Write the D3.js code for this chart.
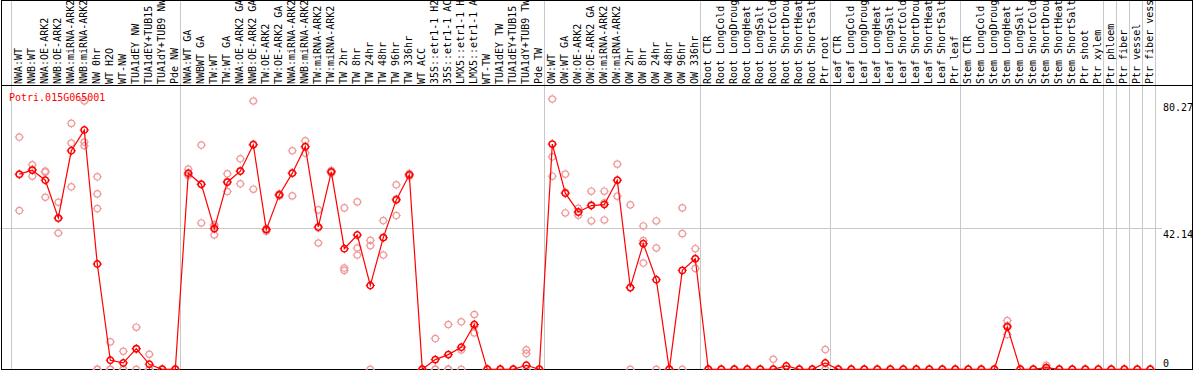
<!DOCTYPE html>
<html>
<head>
<meta charset="utf-8">
<script src="https://cdn.jsdelivr.net/npm/d3@7/dist/d3.min.js"></script>
<style>
    body { margin: 0; background: #fff; }
    svg { display: block; font-family: "DejaVu Sans Mono", monospace; font-size: 10px; }
</style>
</head>
<body>
<div id="chart"></div>
<script>

let title = "Potri.015G065001";

let samples = [
    "NWA:WT", "NWB:WT", "NWA:OE-ARK2", "NWB:OE-ARK2", "NWA:miRNA-ARK2", "NWB:miRNA-ARK2",
    "NW 0hr", "WT H2O", "WT-NW", "TUA1dEY NW", "TUA1dEY+TUB15 NW", "TUA1dY+TUB9 NW", "Pde NW",
    "NWA:WT GA", "NWBWT GA", "TW:WT", "TW:WT GA", "NWA:OE-ARK2 GA", "NWB:OE-ARK2 GA",
    "TW:OE-ARK2", "TW:OE-ARK2 GA", "NWA:miRNA-ARK2", "NWB:miRNA-ARK2", "TW:miRNA-ARK2",
    "TW:miRNA-ARK2", "TW 2hr", "TW 8hr", "TW 24hr", "TW 48hr", "TW 96hr", "TW 336hr",
    "WT ACC", "35S::etr1-1 H2O", "35S::etr1-1 ACC", "LMX5::etr1-1 H2O", "LMX5::etr1-1 ACC",
    "WT-TW", "TUA1dEY TW", "TUA1dEY+TUB15 TW", "TUA1dY+TUB9 TW", "Pde TW",
    "OW:WT", "OW:WT GA", "OW:OE-ARK2", "OW:OE-ARK2 GA", "OW:miRNA-ARK2", "OW:miRNA-ARK2",
    "OW 2hr", "OW 8hr", "OW 24hr", "OW 48hr", "OW 96hr", "OW 336hr",
    "Root CTR", "Root LongCold", "Root LongDrought", "Root LongHeat", "Root LongSalt",
    "Root ShortCold", "Root ShortDrought", "Root ShortHeat", "Root ShortSalt", "Ptr root",
    "Leaf CTR", "Leaf LongCold", "Leaf LongDrought", "Leaf LongHeat", "Leaf LongSalt",
    "Leaf ShortCold", "Leaf ShortDrought", "Leaf ShortHeat", "Leaf ShortSalt", "Ptr leaf",
    "Stem CTR", "Stem LongCold", "Stem LongDrought", "Stem LongHeat", "Stem LongSalt",
    "Stem ShortCold", "Stem ShortDrought", "Stem ShortHeat", "Stem ShortSalt", "Ptr shoot", "Ptr xylem",
    "Ptr phloem", "Ptr fiber", "Ptr vessel", "Ptr fiber vessel"
];

// number of samples in each block, separated by grey lines
let groupSizes = [13, 28, 12, 10, 10, 11, 1, 1, 1, 1];

// mean expression (the red line)
let meanValues = [
    58.4, 59.6, 56.6, 45.3, 65.4, 71.6, 31.5, 2.7, 1.9, 6.2, 1.5, 0, 0,
    58.7, 55.4, 42.1, 56.0, 59.3, 67.2, 41.8, 52.2, 58.7, 66.6, 42.6, 59.1, 36.1, 40.2,
    25.1, 39.4, 50.7, 58.2, 0, 2.9, 4.4, 6.6, 13.4, 0, 0, 0, 1.2, 0,
    67.4, 52.7, 47.1, 49.0, 49.3, 56.6, 24.5, 37.6, 26.8, 0, 29.6, 33.1,
    0, 0, 0, 0, 0, 0, 1.0, 0, 0, 1.9,
    0, 0, 0, 0, 0, 0, 0, 0, 0, 0,
    0, 0, 0, 12.7, 0, 0, 0.5, 0, 0, 0, 0,
    0, 0, 0, 0
];

// individual replicates (pink circles)
let replicates = [
    [69.5, 58.2, 47.5], [61.2, 59.8, 57.8], [59.3, 59.0, 51.5], [50.0, 45.1, 40.8],
    [73.6, 67.7, 54.6], [80.3, 68.0, 66.9], [57.6, 52.5, 48.1, 0, 0], [8.2, 0, 0],
    [5.4, 0, 0], [12.6, 6.0, 0], [4.5, 0, 0], [0, 0, 0], [0, 0, 0],
    [59.9, 58.2, 58.0], [67.1, 55.3, 43.8], [43.3, 42.8, 40.2], [58.5, 56.3, 53.2],
    [63.0, 59.4, 55.5], [80.3, 67.4, 53.9], [42.1, 41.8, 41.3], [52.5, 52.2, 51.9],
    [65.4, 58.8, 51.9], [68.4, 66.7, 64.7], [47.7, 42.3, 37.8], [59.5, 59.1, 58.7],
    [48.3, 30.3, 29.6], [50.1, 36.3, 34.2], [38.6, 37.0, 0], [44.5, 39.5, 34.2],
    [55.2, 51.0, 46.0], [58.6, 58.2, 57.8], [0, 0, 0], [9.2, 0, 0], [13.4, 0, 0],
    [14.2, 5.8, 0], [16.4, 12.9, 10.9], [0, 0, 0], [0, 0, 0], [0, 0, 0], [5.8, 4.7, 0], [0, 0, 0],
    [80.9, 63.6, 57.8], [58.4, 53.0, 46.8], [48.2, 47.0, 46.1], [53.3, 49.2, 44.4],
    [53.3, 49.8, 44.7], [61.4, 56.6, 51.8], [49.2, 24.3, 0], [42.9, 38.5, 31.8],
    [44.4, 36.3, 0], [0, 0, 0], [48.3, 40.6, 0], [36.1, 33.0, 30.2],
    [0, 0, 0], [0, 0, 0], [0, 0, 0], [0, 0, 0], [0, 0, 0], [3.0, 0, 0], [0, 0, 0],
    [0, 0, 0], [0, 0, 0], [5.9, 0, 0],
    [0, 0, 0], [0, 0, 0], [0, 0, 0], [0, 0, 0], [0, 0, 0], [0, 0, 0], [0, 0, 0],
    [0, 0, 0], [0, 0, 0], [0, 0, 0],
    [0, 0, 0], [0, 0, 0], [0, 0, 0], [14.6, 13.1, 10.4], [0, 0, 0], [0, 0, 0],
    [1.2, 0, 0], [0, 0, 0], [0, 0, 0], [0, 0, 0], [0, 0, 0],
    [0, 0, 0], [0, 0, 0], [0, 0, 0], [0, 0, 0]
];

let yMax = 84.28;
let yLabels = [80.27, 42.14, 0];
let gridValues = [42.14];

let width = 1194, height = 370,
    plotLeft = 11.3, step = 13,
    plotTop = 87.7, plotBottom = 369.3,
    labelBase = 84;

let svg = d3.select("#chart").append("svg")
    .attr("width", width)
    .attr("height", height);

let x = d3.scaleBand()
    .domain(d3.range(samples.length))
    .range([plotLeft, plotLeft + step * samples.length]);

let y = d3.scaleLinear()
    .domain([0, yMax])
    .range([plotBottom, plotTop]);

function cx(i) { return x(i) + 8; }

function crisp(v) { return Math.floor(v) + 0.5; }

// group separators
let starts = [0];
groupSizes.forEach(function(n) { starts.push(starts[starts.length - 1] + n); });

svg.append("g").selectAll("line")
    .data(starts)
    .enter().append("line")
    .attr("x1", function(d) { return crisp(d < samples.length ? x(d) : x(samples.length - 1) + step); })
    .attr("x2", function(d) { return crisp(d < samples.length ? x(d) : x(samples.length - 1) + step); })
    .attr("y1", 0)
    .attr("y2", height)
    .attr("stroke", "#c8c8c8");

svg.append("g").selectAll("line")
    .data(gridValues)
    .enter().append("line")
    .attr("x1", 0)
    .attr("x2", 1162)
    .attr("y1", function(d) { return crisp(y(d)); })
    .attr("y2", function(d) { return crisp(y(d)); })
    .attr("stroke", "#c8c8c8");

// sample labels, rotated
svg.append("g").selectAll("text")
    .data(samples)
    .enter().append("text")
    .attr("transform", function(d, i) {
        return "translate(" + (cx(i) + 3) + "," + labelBase + ") rotate(-90)";
    })
    .attr("fill", "#000")
    .text(function(d) { return d; });

// frame and header separator
svg.append("rect")
    .attr("x", 1.5).attr("y", 0.5)
    .attr("width", 1191).attr("height", 369)
    .attr("fill", "none")
    .attr("stroke", "#000");

svg.append("line")
    .attr("x1", 1).attr("x2", 1193)
    .attr("y1", 85.5).attr("y2", 85.5)
    .attr("stroke", "#000");

// marker: small ring with four nubs
function marker(sel, color, w) {
    sel.append("circle")
        .attr("r", 3.2)
        .attr("fill", "none")
        .attr("stroke", color)
        .attr("stroke-width", w);
    sel.append("path")
        .attr("d", "M0,-4.6V-3.4M0,3.4V4.6M-4.6,0H-3.4M3.4,0H4.6")
        .attr("stroke", color)
        .attr("stroke-width", 1);
}

let reps = [];
replicates.forEach(function(r, i) {
    r.forEach(function(v) { reps.push({i: i, v: v}); });
});

svg.append("g").selectAll("g")
    .data(reps)
    .enter().append("g")
    .attr("transform", function(d) { return "translate(" + cx(d.i) + "," + y(d.v) + ")"; })
    .call(marker, "#ef9a9a", 1.2);

let line = d3.line()
    .x(function(d, i) { return cx(i); })
    .y(function(d) { return y(d); });

svg.append("path")
    .datum(meanValues)
    .attr("d", line)
    .attr("fill", "none")
    .attr("stroke", "#ff0000")
    .attr("stroke-width", 1.2);

svg.append("g").selectAll("g")
    .data(meanValues)
    .enter().append("g")
    .attr("transform", function(d, i) { return "translate(" + cx(i) + "," + y(d) + ")"; })
    .call(marker, "#ff0000", 1.5);

// title
svg.append("text")
    .attr("x", 9)
    .attr("y", 101)
    .attr("fill", "#ff0000")
    .text(title);

// value labels on the right
svg.append("g").selectAll("text")
    .data(yLabels)
    .enter().append("text")
    .attr("x", 1163)
    .attr("y", function(d) { return Math.min(y(d) + 9.5, 366.5); })
    .attr("fill", "#000")
    .text(function(d) { return d; });

</script>
</body>
</html>
